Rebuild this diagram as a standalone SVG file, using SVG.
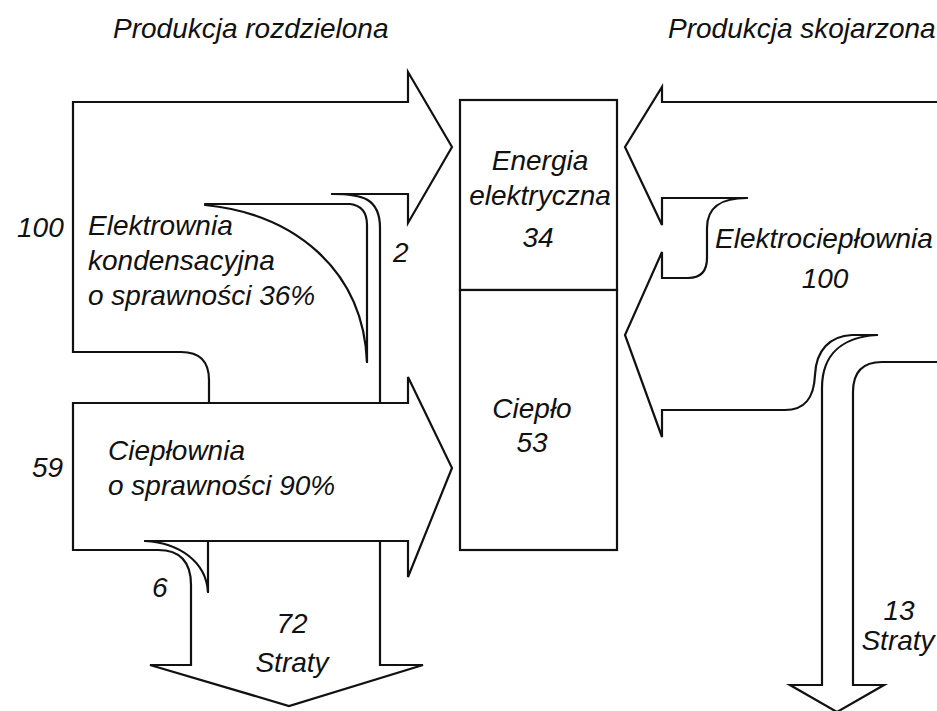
<svg xmlns="http://www.w3.org/2000/svg" width="937" height="711" viewBox="0 0 937 711">
<style>
.ln{fill:none;stroke:#111;stroke-width:2.2;stroke-linejoin:miter;stroke-linecap:round}
.bx{fill:#fff;stroke:#111;stroke-width:2.2}
text{font-family:"Liberation Sans",Arial,sans-serif;font-style:italic;font-size:28px;fill:#111}
.m{text-anchor:middle}
</style>
<rect width="937" height="711" fill="#fff"/>
<g id="titles">
<text x="113" y="38">Produkcja rozdzielona</text>
<text x="668" y="38">Produkcja skojarzona</text>
</g>
<g id="box">
<g id="energia">
<rect class="bx" x="460" y="100" width="157" height="190"/>
<text class="m" x="540" y="170">Energia</text>
<text class="m" x="540" y="205">elektryczna</text>
<text class="m" x="538" y="247">34</text>
</g>
<g id="cieplo">
<rect class="bx" x="460" y="290" width="157" height="260"/>
<text class="m" x="532" y="418">Ciepło</text>
<text class="m" x="532" y="452">53</text>
</g>
</g>
<g id="connectors">
<path class="ln" d="M332,194 H408 V223 L452,147 L408,72 V102 H73 V352 H181 Q209,352 209,380 V403"/>
<path class="ln" d="M205,204 H350 Q367,206 367,225 V362"/>
<path class="ln" d="M205,205 C295,214 363,270 367,362"/>
<path class="ln" d="M332,194 C362,194 380,198 380,228 V403"/>
<path class="ln" d="M208,541 V592"/>
<path class="ln" d="M145,541 C180,543 206,562 208,592"/>
<path class="ln" d="M145,541 H408 V577 L452,468 L408,377 V403 H73 V550 H158 Q191,550 191,585 V665 H150 L289,706 L423,665 H380 V541"/>
<path class="ln" d="M937,102 H662 V87 L625,147 L662,225 V198 H747"/>
<path class="ln" d="M747,198 C722,198 707,206 707,228 V258 C707,272 700,278 688,278 H662 V252 L625,335 L662,437 V410 H785 C805,410 814,398 815,375 C816,350 830,336 852,335 H877"/>
<path class="ln" d="M877,335 C845,337 822,352 822,388 V685 H790 L837,712 L884,685 H853 V392 C853,372 862,362 882,362 H937"/>
</g>
<g id="elektrownia">
<text x="17" y="237">100</text>
<text x="88" y="235">Elektrownia</text>
<text x="88" y="270">kondensacyjna</text>
<text x="88" y="305">o sprawności 36%</text>
<text x="393" y="262">2</text>
</g>
<g id="cieplownia">
<text x="32" y="477">59</text>
<text x="108" y="460">Ciepłownia</text>
<text x="108" y="495">o sprawności 90%</text>
<text x="152" y="597">6</text>
</g>
<g id="straty1">
<text class="m" x="292" y="633">72</text>
<text class="m" x="292" y="672">Straty</text>
</g>
<g id="elektrocieplownia">
<text x="715" y="248">Elektrociepłownia</text>
<text class="m" x="825" y="288">100</text>
</g>
<g id="straty2">
<text class="m" x="899" y="620">13</text>
<text class="m" x="898" y="650">Straty</text>
</g>
</svg>
